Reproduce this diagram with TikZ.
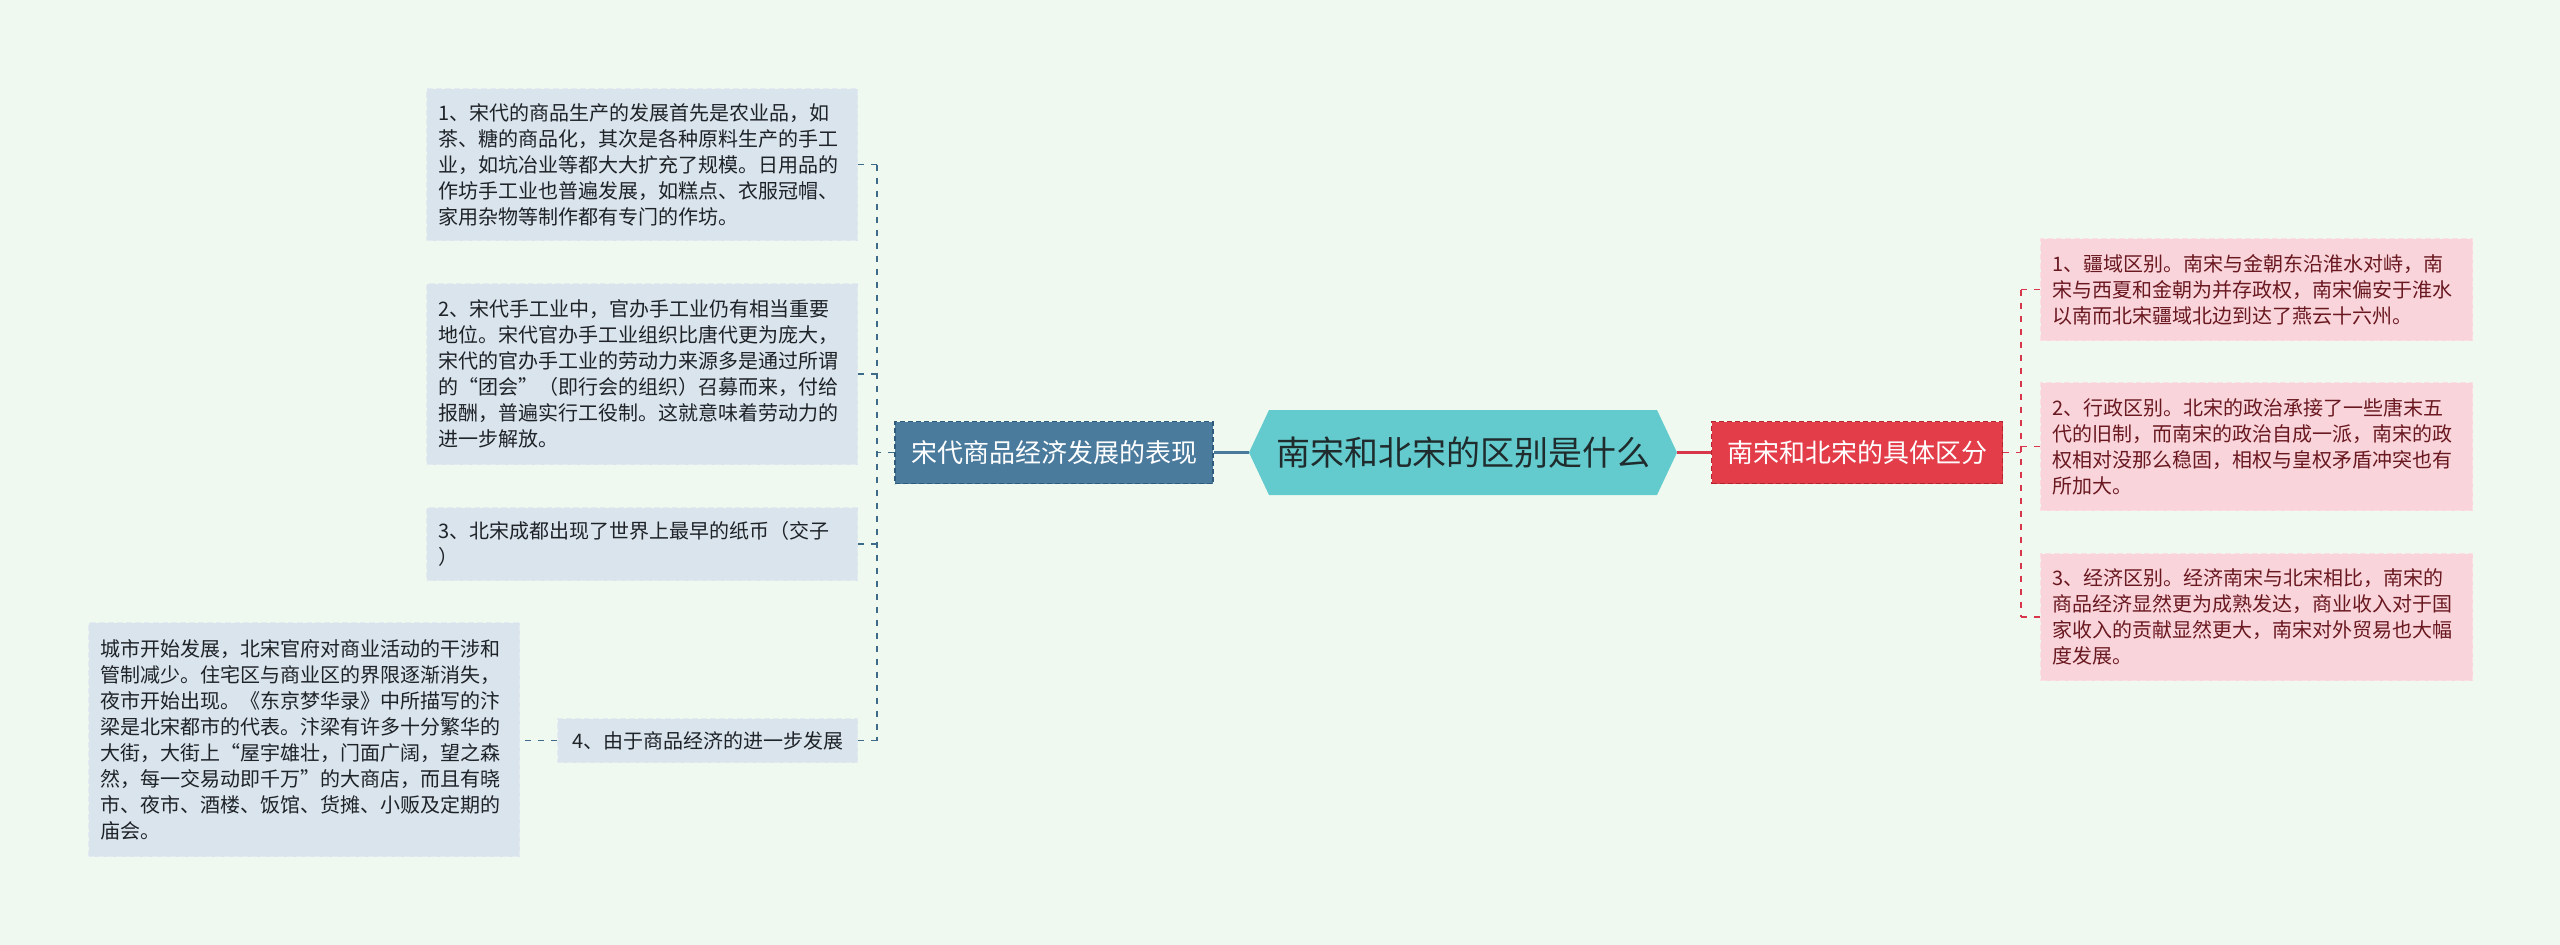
\documentclass[tikz,border=0pt]{standalone}
\usepackage{fontspec}
\setmainfont{Noto Sans CJK SC}
\definecolor{bg}{HTML}{F0F9EF}
\definecolor{lfill}{HTML}{DAE4EC}
\definecolor{lborder}{HTML}{E3EBF0}
\definecolor{lmain}{HTML}{4A7B9D}
\definecolor{lmainb}{HTML}{2F5B7C}
\definecolor{lline}{HTML}{3F6B8A}
\definecolor{cfill}{HTML}{63CBCD}
\definecolor{ctext}{HTML}{1F2B2C}
\definecolor{rmain}{HTML}{E43D4A}
\definecolor{rmainb}{HTML}{B42532}
\definecolor{rline}{HTML}{D8364A}
\definecolor{rfill}{HTML}{F9D5DB}
\definecolor{rborder}{HTML}{FADFE3}
\definecolor{rtext}{HTML}{6A1820}
\definecolor{ltext}{HTML}{1E2328}
\tikzset{
  leafbase/.style={line width=1.2pt, dash pattern=on 6pt off 3pt,
    font=\fontsize{20}{26}\selectfont, align=left, inner xsep=12pt, inner ysep=0pt,
    anchor=north west},
  leafL/.style={leafbase, draw=lborder, fill=lfill, text=ltext},
  leafR/.style={leafbase, draw=rborder, fill=rfill, text=rtext},
  mainL/.style={draw=lmainb, fill=lmain, text=white, line width=1.5pt,
    dash pattern=on 5pt off 3pt, font=\fontsize{26}{30}\selectfont,
    minimum width=318pt, minimum height=62pt, inner sep=0pt},
  mainR/.style={draw=rmainb, fill=rmain, text=white, line width=1.5pt,
    dash pattern=on 5pt off 3pt, font=\fontsize{26}{30}\selectfont,
    minimum width=291pt, minimum height=62pt, inner sep=0pt},
  centre/.style={minimum width=428pt, minimum height=85pt, inner sep=0pt,
    text=ctext, font=\fontsize{34}{40}\selectfont,
    path picture={\fill[cfill] (path picture bounding box.west)
      -- ([xshift=20pt]path picture bounding box.north west)
      -- ([xshift=-20pt]path picture bounding box.north east)
      -- (path picture bounding box.east)
      -- ([xshift=-20pt]path picture bounding box.south east)
      -- ([xshift=20pt]path picture bounding box.south west) -- cycle;}},
  ldash/.style={draw=lline, line width=1.6pt, dash pattern=on 6pt off 7pt},
  rdash/.style={draw=rline, line width=1.6pt, dash pattern=on 6pt off 7pt},
  lsolid/.style={draw=lmain, line width=3.5pt},
  rsolid/.style={draw=rline, line width=3.5pt},
}
\begin{document}
\begin{tikzpicture}[x=1pt,y=-1pt]
\fill[bg] (0,0) rectangle (2560,945);
\useasboundingbox (0,0) rectangle (2560,945);

% centre and main nodes
\node[centre] (c) at (1463,452.5) {南宋和北宋的区别是什么};
\node[mainL] (lm) at (1054,452.5) {宋代商品经济发展的表现};
\node[mainR] (rm) at (1857,452.5) {南宋和北宋的具体区分};

% left leaves
\node[leafL, text width=407pt, minimum height=152pt] (l1) at (426,88)
 {1、宋代的商品生产的发展首先是农业品，如\\
  茶、糖的商品化，其次是各种原料生产的手工\\
  业，如坑冶业等都大大扩充了规模。日用品的\\
  作坊手工业也普遍发展，如糕点、衣服冠帽、\\
  家用杂物等制作都有专门的作坊。};
\node[leafL, text width=407pt, minimum height=181pt] (l2) at (426,283)
 {2、宋代手工业中，官办手工业仍有相当重要\\
  地位。宋代官办手工业组织比唐代更为庞大，\\
  宋代的官办手工业的劳动力来源多是通过所谓\\
  的“团会”（即行会的组织）召募而来，付给\\
  报酬，普遍实行工役制。这就意味着劳动力的\\
  进一步解放。};
\node[leafL, text width=407pt, minimum height=73pt] (l3) at (426,507)
 {3、北宋成都出现了世界上最早的纸币（交子\\
  ）};
\node[leafL, minimum width=300pt, minimum height=44pt] (l4) at (557,718)
 {4、由于商品经济的进一步发展};
\node[leafL, text width=407pt, minimum height=234pt] (l4c) at (88,622)
 {城市开始发展，北宋官府对商业活动的干涉和\\
  管制减少。住宅区与商业区的界限逐渐消失，\\
  夜市开始出现。《东京梦华录》中所描写的汴\\
  梁是北宋都市的代表。汴梁有许多十分繁华的\\
  大街，大街上“屋宇雄壮，门面广阔，望之森\\
  然，每一交易动即千万”的大商店，而且有晓\\
  市、夜市、酒楼、饭馆、货摊、小贩及定期的\\
  庙会。};

% right leaves
\node[leafR, text width=408pt, minimum height=102pt] (r1) at (2040,238)
 {1、疆域区别。南宋与金朝东沿淮水对峙，南\\
  宋与西夏和金朝为并存政权，南宋偏安于淮水\\
  以南而北宋疆域北边到达了燕云十六州。};
\node[leafR, text width=408pt, minimum height=128pt] (r2) at (2040,382)
 {2、行政区别。北宋的政治承接了一些唐末五\\
  代的旧制，而南宋的政治自成一派，南宋的政\\
  权相对没那么稳固，相权与皇权矛盾冲突也有\\
  所加大。};
\node[leafR, text width=408pt, minimum height=127pt] (r3) at (2040,553)
 {3、经济区别。经济南宋与北宋相比，南宋的\\
  商品经济显然更为成熟发达，商业收入对于国\\
  家收入的贡献显然更大，南宋对外贸易也大幅\\
  度发展。};

% connectors centre - main
\draw[lsolid] (c.west) -- (lm.east);
\draw[rsolid] (c.east) -- (rm.west);

% left bracket
\coordinate (lb) at (877,452.5);
\draw[ldash] (lm.west) -- (lb);
\draw[ldash] (lb |- l1.east) -- (lb |- l4.east);
\draw[ldash] (lb |- l1.east) -- (l1.east);
\draw[ldash] (lb |- l2.east) -- (l2.east);
\draw[ldash] (lb |- l3.east) -- (l3.east);
\draw[ldash] (lb |- l4.east) -- (l4.east);
\draw[ldash] (l4.west) -- (l4.west -| l4c.east);

% right bracket
\coordinate (rb) at (2021,452.5);
\draw[rdash] (rm.east) -- (rb);
\draw[rdash] (rb |- r1.west) -- (rb |- r3.west);
\draw[rdash] (rb |- r1.west) -- (r1.west);
\draw[rdash] (rb |- r2.west) -- (r2.west);
\draw[rdash] (rb |- r3.west) -- (r3.west);
\end{tikzpicture}
\end{document}
